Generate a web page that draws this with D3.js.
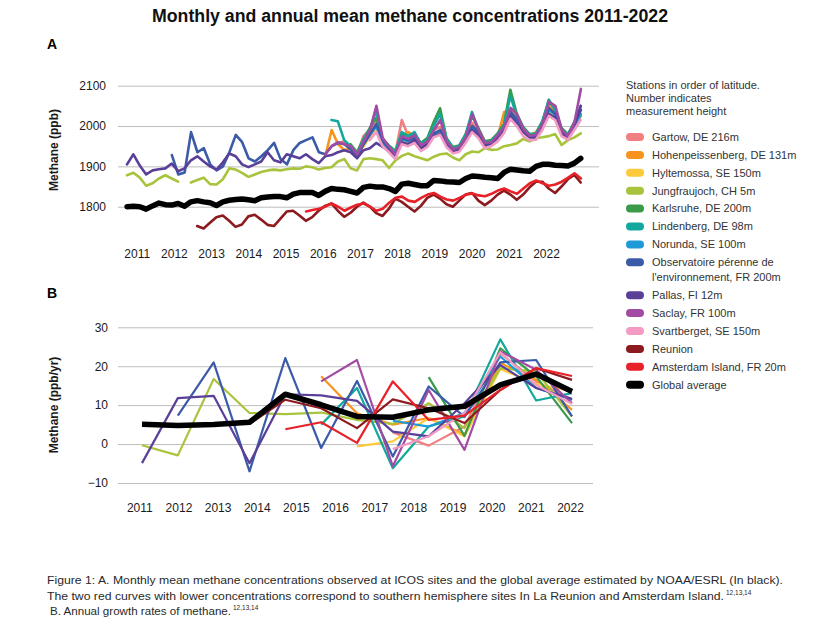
<!DOCTYPE html>
<html>
<head>
<meta charset="utf-8">
<script src="https://cdn.jsdelivr.net/npm/d3@7"></script>
<style>
  body { margin: 0; background: #fff; }
  svg text { font-family: "Liberation Sans", Arial, sans-serif; }
</style>
</head>
<body>
<script>
// ---------- data ----------
const yearLabels = [2011,2012,2013,2014,2015,2016,2017,2018,2019,2020,2021,2022];

// panel A: bimonthly readings (ppb), first value at the given start year
const startsA = {
  gartow: 2016.5, hohen: 2016.17, hyltemossa: 2017.17, jungfrau: 2011, karlsruhe: 2016.83,
  lindenberg: 2016.33, norunda: 2017, ope: 2012.17, pallas: 2011, saclay: 2016.17,
  svartberget: 2017.33, reunion: 2012.83, amsterdam: 2015.67, global: 2011
};
const gartowA = [1958,1962,1950,1930,1975,1990,2010,1962,1948,1935,2015,1975,1980,1955,1962,1990,1998,1962,1942,1948,1972,2008,1988,1958,1962,1978,1998,2040,2018,1992,1976,1980,2008,2065,2035,1988,1976,2005,2030];
const hohenA = [1925,1990,1955,1940,1945,1922,1955,1975,2000,1958,1940,1928,1978,1985,1972,1948,1958,1980,1985,1958,1940,1945,1968,2000,1990,1955,1960,1975,2035,2040,2015,1990,1975,1985,2010,2055,2035,1985,1975,2002,2025];
const hyltemossaA = [1950,1975,1995,1955,1940,1928,1965,1960,1968,1945,1955,1978,1985,1955,1938,1942,1965,1995,1980,1952,1956,1970,1990,2030,2010,1985,1972,1975,2000,2035,2025,1982,1972,1998,2025];
const jungfrauA = [1878,1884,1872,1852,1858,1870, 1878,1870,1862,null,1860,1866, 1872,1856,1855,1868,1895,1892,
  1884,1874,1880,1886,1890,1892, 1890,1893,1895,1894,1900,1898, 1892,1896,1898,1912,1918,1895,
  1890,1918,1920,1918,1915,1896, 1915,1926,1932,1925,1920,1915, 1924,1930,1932,1922,1915,1930,
  1937,1935,1945,1941,1942,1950, 1953,1957,1968,1962,1970,1972, 1975,1980,1953,1965,1972,1982];
const karlsruheA = [1955,1935,1968,1995,2020,1968,1952,1938,1980,1975,1980,1958,1970,2010,2044,1970,1948,1952,1980,2025,1995,1962,1965,1982,2005,2090,2030,1998,1980,1982,2012,2060,2045,1995,1980,2008,2040];
const lindenbergA = [2015,2012,1965,1950,1930,1965,1990,2040,1965,1950,1935,1985,1975,1985,1955,1965,2000,2030,1968,1945,1950,1978,2035,1990,1958,1962,1980,2000,2075,2025,1995,1978,1980,2010,2065,2040,1990,1978,2010,2050];
const norundaA = [1928,1955,1978,2000,1958,1942,1930,1968,1962,1970,1946,1956,1980,1988,1956,1938,1943,1966,1998,1982,1952,1957,1972,1992,2032,2012,1986,1972,1972,2000,2040,2028,1982,1970,1998,2028];
const opeA = [1928,1880,1885,1985,1935, 1945,1905,1890,1900,1935,1978, 1960,1920,1912,1925,1940,1958,
  1918,1905,1940,1958,1965,1972, 1935,1930,1950,1958,1955,1942, 1925,1955,1980,2005,1962,1945,
  1928,1970,1965,1972,1950,1958, 1982,1990,1958,1940,1944,1968, 2000,1985,1955,1958,1975,1995,
  2035,2015,1990,1975,1976,2005, 2045,2030,1985,1972,2008,2040];
const pallasA = [1905,1930,1902,1880,1890,1893, 1895,1907,1888,1895,1915,1925, 1912,1900,1892,1910,1932,1925,
  1905,1898,1905,1912,1935,1915, 1910,1930,1925,1920,1930,1918, 1908,1925,1928,1935,1940,1935,
  1920,1940,1945,1958,1948,1940, 1925,1960,1955,1965,1945,1955, 1975,1980,1955,1938,1942,1962,
  1990,1978,1952,1956,1970,1990, 2025,2005,1985,1972,1972,1998, 2030,2020,1982,1970,2000,2050];
const saclayA = [1930,1950,1960,1955,1950,1930,1962,1990,2050,1970,1948,1930,1975,1968,1978,1952,1962,1990,2015,1962,1942,1948,1972,2030,1990,1958,1960,1978,1998,2045,2030,1992,1976,1978,2005,2060,2050,1990,1975,2010,2092];
const svartbergetA = [1965,1985,1950,1935,1918,1955,1950,1958,1938,1948,1972,1978,1948,1932,1936,1958,1985,1970,1945,1950,1962,1982,2018,2000,1975,1965,1966,1990,2025,2015,1975,1966,1990,2015];
const reunionA = [1752, 1746,1760,1774,1778,1765,1750, 1756,1776,1780,1768,1755,1752,
  1770,1788,1790,1778,1765,1774, 1790,1802,1808,1790,1775,1785, 1800,1810,1800,1784,1777,1795,
  1820,1812,1800,1788,1802,1822, 1830,1820,1806,1800,1815,1830, 1834,1815,1804,1815,1830,1840,
  1830,1817,1830,1848,1862,1862, 1845,1834,1850,1868,1879,1860];
const amsterdamA = [1788,1792, 1795,1800,1808,1800,1790,1798, 1805,1808,1800,1790,1795,1810,
  1822,1825,1815,1812,1822,1830, 1834,1825,1818,1815,1822,1830, 1833,1828,1826,1832,1840,1845,
  1838,1832,1845,1858,1865,1858, 1852,1855,1862,1872,1883,1870];
const globalA = [1800,1801,1800,1794,1802,1809, 1805,1804,1808,1801,1812,1815, 1812,1810,1803,1812,1816,1818,
  1819,1817,1815,1822,1824,1825, 1825,1822,1831,1835,1835,1835, 1828,1838,1845,1843,1842,1838,
  1834,1848,1851,1849,1849,1845, 1838,1856,1858,1855,1852,1852, 1865,1864,1862,1861,1860,1870,
  1876,1875,1873,1872,1870,1885, 1893,1891,1889,1888,1900,1905, 1905,1903,1902,1901,1908,1920];

// panel B: annual growth rates (ppb/yr)
const yearsB = [2010,2011,2012,2013,2014,2015,2016,2017,2018,2019,2020,2021,2022];
const gartowB      = [null,null,null,null,null,null,null,3.0,-0.4,4.5,23.3,16.1,11.4];
const hohenB       = [null,null,null,null,null,17.4,7.9,5.0,6.7,2.4,20.8,16.5,8.8];
const hyltemossaB  = [null,null,null,null,null,null,-0.6,0.7,6.7,2.0,19.3,15.5,13.5];
const jungfrauB    = [-0.3,-2.9,16.7,8.0,7.7,8.1,6.2,5.2,10.5,4.1,19.5,18.6,7.1];
const karlsruheB   = [null,null,null,null,null,null,null,null,17.2,2.1,24.6,17.4,5.4];
const lindenbergB  = [null,null,null,null,null,5.0,14.4,-6.2,4.5,7.1,26.9,11.2,13.1];
const norundaB     = [null,null,null,null,null,null,null,6.0,4.5,8.0,22.5,14.4,11.4];
const opeB         = [null,7.3,21.0,-7.0,22.1,-1.0,16.2,-3.2,14.8,7.0,21.0,21.6,7.1];
const pallasB      = [-4.9,11.8,12.4,-4.9,12.8,12.5,11.1,3.2,2.0,10.5,20.3,14.4,11.6];
const saclayB      = [null,null,null,null,null,16.1,21.6,-5.7,13.9,-1.5,23.8,19.1,10.5];
const svartbergetB = [null,null,null,null,null,null,null,-1.3,2.0,8.0,23.6,15.2,10.3];
const reunionB     = [null,null,null,5.2,11.4,9.2,4.1,11.5,9.2,5.4,13.9,19.5,16.5];
const amsterdamB   = [null,null,null,null,3.8,5.6,0.3,16.1,6.2,7.3,13.9,19.5,17.5];
const globalB      = [5.1,4.8,5.0,5.6,12.8,10.1,7.1,6.9,8.8,9.7,15.2,18.0,13.5];

const yTicksA = [1800,1900,2000,2100];
const yTicksB = [-10,0,10,20,30];

// ---------- series table ----------
const stations = [
  {key:"gartow", name:"Gartow, DE 216m", color:"#f17e80", a:gartowA, b:gartowB},
  {key:"hohen", name:"Hohenpeissenberg, DE 131m", color:"#f7941e", a:hohenA, b:hohenB},
  {key:"hyltemossa", name:"Hyltemossa, SE 150m", color:"#ffc93c", a:hyltemossaA, b:hyltemossaB},
  {key:"jungfrau", name:"Jungfraujoch, CH 5m", color:"#a8c43c", a:jungfrauA, b:jungfrauB},
  {key:"karlsruhe", name:"Karlsruhe, DE 200m", color:"#3a9a4a", a:karlsruheA, b:karlsruheB},
  {key:"lindenberg", name:"Lindenberg, DE 98m", color:"#13a89e", a:lindenbergA, b:lindenbergB},
  {key:"norunda", name:"Norunda, SE 100m", color:"#1e9ad6", a:norundaA, b:norundaB},
  {key:"ope", name:["Observatoire pérenne de","l'environnement, FR 200m"], color:"#3b5ba9", a:opeA, b:opeB},
  {key:"pallas", name:"Pallas, FI 12m", color:"#5a3f99", a:pallasA, b:pallasB},
  {key:"saclay", name:"Saclay, FR 100m", color:"#a24ba3", a:saclayA, b:saclayB},
  {key:"svartberget", name:"Svartberget, SE 150m", color:"#f39bc3", a:svartbergetA, b:svartbergetB},
  {key:"reunion", name:"Reunion", color:"#8c1a1e", a:reunionA, b:reunionB},
  {key:"amsterdam", name:"Amsterdam Island, FR 20m", color:"#e82129", a:amsterdamA, b:amsterdamB},
  {key:"global", name:"Global average", color:"#000000", a:globalA, b:globalB}
];

const svg = d3.select("body").append("svg").attr("width", 819).attr("height", 628);

// ---------- titles ----------
svg.append("text").attr("x", 410).attr("y", 22).attr("text-anchor", "middle")
  .attr("font-size", 17.5).attr("font-weight", "bold").attr("fill", "#111")
  .attr("textLength", 516).attr("lengthAdjust", "spacingAndGlyphs")
  .text("Monthly and annual mean methane concentrations 2011-2022");
svg.append("text").attr("x", 47).attr("y", 49).attr("font-size", 14).attr("font-weight", "bold").text("A");
svg.append("text").attr("x", 47).attr("y", 298).attr("font-size", 14).attr("font-weight", "bold").text("B");

// ---------- panel A ----------
const xA = d3.scaleLinear().domain([2011, 2022.917]).range([127, 584]);
const yA = d3.scaleLinear().domain([1800, 2100]).range([206.7, 85.7]);
const xLabA = d3.scalePoint().domain(yearLabels).range([136.7, 546]);

const gA = svg.append("g");
gA.append("g").attr("transform", "translate(118,0)")
  .call(d3.axisLeft(yA).tickValues(yTicksA).tickSize(-481).tickPadding(12).tickFormat(d3.format("d")))
  .call(g => g.select(".domain").remove())
  .call(g => g.selectAll("line").attr("stroke", "#bdbdbd"))
  .call(g => g.selectAll("text").attr("font-size", 12).attr("fill", "#1a1a1a"));
gA.append("g").attr("transform", "translate(0,246)")
  .call(d3.axisBottom(xLabA).tickSize(0).tickPadding(3).tickFormat(d3.format("d")))
  .call(g => g.select(".domain").remove())
  .call(g => g.selectAll("text").attr("font-size", 12).attr("fill", "#1a1a1a"));

const lineA = d3.line().defined(d => d.v != null).x(d => xA(d.t)).y(d => yA(d.v));
stations.forEach(s => {
  const pts = s.a.map((v, k) => ({t: startsA[s.key] + k / 6, v: v}));
  gA.append("path").datum(pts).attr("d", lineA).attr("fill", "none")
    .attr("stroke", s.color).attr("stroke-width", s.key === "global" ? 5.5 : 2.6)
    .attr("stroke-linejoin", "round").attr("stroke-linecap", "round");
});

svg.append("text").attr("transform", "translate(58,150) rotate(-90)").attr("text-anchor", "middle")
  .attr("font-size", 12).attr("font-weight", "bold").attr("fill", "#1a1a1a").text("Methane (ppb)");

// ---------- panel B ----------
const xB = d3.scalePoint().domain(yearsB).range([142, 572]);
const yB = d3.scaleLinear().domain([-10, 30]).range([483, 327.3]);
const xLabB = d3.scalePoint().domain(yearLabels).range([139.3, 570]);

const gB = svg.append("g");
gB.append("g").attr("transform", "translate(118,0)")
  .call(d3.axisLeft(yB).tickValues(yTicksB).tickSize(-475).tickPadding(10))
  .call(g => g.select(".domain").remove())
  .call(g => g.selectAll("line").attr("stroke", "#bdbdbd"))
  .call(g => g.selectAll("text").attr("font-size", 12).attr("fill", "#1a1a1a"));
gB.append("g").attr("transform", "translate(0,500)")
  .call(d3.axisBottom(xLabB).tickSize(0).tickPadding(3).tickFormat(d3.format("d")))
  .call(g => g.select(".domain").remove())
  .call(g => g.selectAll("text").attr("font-size", 12).attr("fill", "#1a1a1a"));

const lineB = d3.line().defined(d => d.v != null).x(d => xB(d.y)).y(d => yB(d.v));
stations.forEach(s => {
  const pts = s.b.map((v, i) => ({y: yearsB[i], v: v}));
  gB.append("path").datum(pts).attr("d", lineB).attr("fill", "none")
    .attr("stroke", s.color).attr("stroke-width", s.key === "global" ? 5.5 : 2.2)
    .attr("stroke-linejoin", "round");
});

svg.append("text").attr("transform", "translate(58,405) rotate(-90)").attr("text-anchor", "middle")
  .attr("font-size", 12).attr("font-weight", "bold").attr("fill", "#1a1a1a").text("Methane (ppb/yr)");

// ---------- legend ----------
const lg = svg.append("g").attr("font-size", 11).attr("fill", "#333");
["Stations in order of latitude.", "Number indicates", "measurement height"].forEach((t, i) => {
  lg.append("text").attr("x", 626).attr("y", 85 + i * 12.9).attr("dy", "0.35em").text(t);
});
stations.forEach((s, i) => {
  const cy = 137 + i * 17.9 + (i > 7 ? 15 : 0);
  lg.append("rect").attr("x", 626).attr("y", cy - 4).attr("width", 18).attr("height", 8)
    .attr("rx", 4).attr("fill", s.color);
  const names = Array.isArray(s.name) ? s.name : [s.name];
  names.forEach((n, j) => {
    lg.append("text").attr("x", 652).attr("y", cy + j * 14.6).attr("dy", "0.35em").text(n);
  });
});

// ---------- caption ----------
const cap = svg.append("g").attr("font-size", 11.5).attr("fill", "#2a2a2a");
const capLines = [
  {t: "Figure 1: A. Monthly mean methane concentrations observed at ICOS sites and the global average estimated by NOAA/ESRL (In black).", x: 47, y: 584, w: 736, sup: ""},
  {t: "The two red curves with lower concentrations correspond to southern hemisphere sites In La Reunion and Amsterdam Island.", x: 47, y: 600, w: 677, sup: "12,13,14"},
  {t: "B. Annual growth rates of methane.", x: 50, y: 615, w: 181, sup: "12,13,14"}
];
capLines.forEach(c => {
  cap.append("text").attr("x", c.x).attr("y", c.y).attr("textLength", c.w)
    .attr("lengthAdjust", "spacingAndGlyphs").text(c.t);
  if (c.sup) cap.append("text").attr("x", c.x + c.w + 2).attr("y", c.y - 5)
    .attr("font-size", 6.5).text(c.sup);
});
</script>
</body>
</html>
